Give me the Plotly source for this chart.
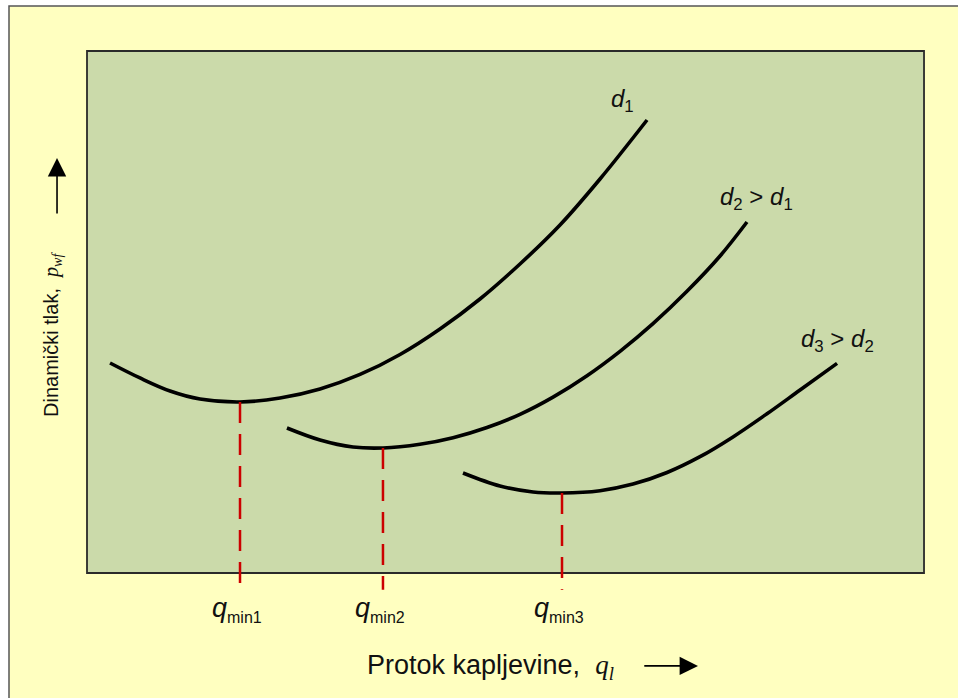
import plotly.graph_objects as go

# Curve data (arbitrary units: q in 0..100, p in 0..100 of the inner chart box)
q_d1 = [2.75, 6.33, 9.92, 13.50, 18.28, 23.06, 27.84, 32.62, 37.40, 42.17, 46.95, 51.73, 56.51, 61.29, 66.91]
p_d1 = [40.23, 37.36, 34.87, 33.33, 32.76, 33.52, 35.25, 38.03, 41.86, 46.74, 52.49, 59.20, 66.67, 75.48, 86.78]

q_d2 = [23.89, 27.84, 31.78, 35.36, 39.78, 43.73, 47.79, 51.73, 55.68, 59.74, 63.68, 67.62, 71.68, 75.63, 78.85]
p_d2 = [27.78, 25.48, 24.14, 23.95, 24.66, 25.92, 27.87, 30.40, 33.70, 37.80, 42.47, 47.78, 53.97, 60.73, 67.24]

q_d3 = [44.92, 49.34, 53.29, 56.75, 61.29, 65.23, 69.30, 73.24, 77.18, 81.24, 85.19, 89.61]
p_d3 = [19.16, 16.67, 15.52, 15.33, 15.77, 17.03, 19.25, 22.28, 26.07, 30.50, 35.06, 40.15]

q_min = [18.28, 35.36, 56.75]
p_min = [32.76, 23.95, 15.33]
q_min_labels = ["min1", "min2", "min3"]
dash_bottom = [-2.5, -3.2, -3.2]

curve_labels = ["<i>d</i><sub>1</sub>", "<i>d</i><sub>2</sub> > <i>d</i><sub>1</sub>", "<i>d</i><sub>3</sub> > <i>d</i><sub>2</sub>"]
curve_label_pos = [(64.0, 90.6), (80.0, 71.8), (89.7, 44.6)]

YELLOW = "#FFFFC0"
GREEN = "#CBDAAA"
SANS = "Liberation Sans, Arial, sans-serif"
serif = "font-family:'Liberation Serif','Times New Roman',serif"

fig = go.Figure()

for qs, ps in [(q_d1, p_d1), (q_d2, p_d2), (q_d3, p_d3)]:
    fig.add_trace(go.Scatter(x=qs, y=ps, mode="lines",
                             line=dict(color="black", width=3.6, shape="spline", smoothing=1.0),
                             hoverinfo="skip", showlegend=False))

for qm, pm, yb in zip(q_min, p_min, dash_bottom):
    fig.add_trace(go.Scatter(x=[qm, qm], y=[pm, yb], mode="lines",
                             line=dict(color="#CC0000", width=2.5, dash="21px,11px"),
                             hoverinfo="skip", showlegend=False))

shapes = [
    dict(type="rect", xref="paper", yref="paper", x0=9/958, x1=1.2, y0=-0.2, y1=1-6/698,
         fillcolor=YELLOW, line=dict(color="#555555", width=1.5), layer="below"),
    dict(type="rect", xref="x", yref="y", x0=0, x1=100, y0=0, y1=100,
         fillcolor=GREEN, line=dict(color="#2a2a2a", width=1.8), layer="below"),
]

annotations = []
for qm, lab in zip(q_min, q_min_labels):
    annotations.append(dict(x=qm - 0.4, y=-6.9, xref="x", yref="y",
                            text="<i>q</i><sub><span style=\"font-size:16px\">" + lab + "</span></sub>",
                            showarrow=False,
                            font=dict(family=SANS, size=27, color="#111")))
for (lx, ly), lab in zip(curve_label_pos, curve_labels):
    annotations.append(dict(x=lx, y=ly, xref="x", yref="y", text=lab, showarrow=False,
                            font=dict(family=SANS, size=24, color="#111")))

annotations.append(dict(x=48.2, y=-18.0, xref="x", yref="y",
                        text="Protok kapljevine,  <span style=\"" + serif + "\"><i>q</i><sub><i>l</i></sub></span>",
                        showarrow=False, font=dict(family=SANS, size=27, color="#111")))
annotations.append(dict(x=-4.06, y=45.6, xref="x", yref="y", textangle=-90,
                        text="Dinamički tlak,  <span style=\"" + serif + "\"><i>p</i><sub><i>wf</i></sub></span>",
                        showarrow=False, font=dict(family=SANS, size=20, color="#111")))
# axis direction arrows
annotations.append(dict(x=73.0, y=-17.8, ax=66.4, ay=-17.8, xref="x", yref="y", axref="x", ayref="y",
                        text="", showarrow=True, arrowhead=2, arrowsize=2.3, arrowwidth=1.6, arrowcolor="black"))
annotations.append(dict(x=-3.58, y=79.5, ax=-3.58, ay=68.6, xref="x", yref="y", axref="x", ayref="y",
                        text="", showarrow=True, arrowhead=2, arrowsize=2.3, arrowwidth=1.6, arrowcolor="black"))

fig.update_layout(
    width=958, height=698,
    margin=dict(l=0, r=0, t=0, b=0),
    paper_bgcolor="white", plot_bgcolor="white",
    xaxis=dict(range=[-10.394, 104.06], visible=False, fixedrange=True),
    yaxis=dict(range=[-23.95, 109.77], visible=False, fixedrange=True),
    shapes=shapes, annotations=annotations, showlegend=False,
)

fig.write_html("out.html", config={"displayModeBar": False, "staticPlot": True},
               post_script="document.body.style.margin='0';document.body.style.overflow='hidden';")
